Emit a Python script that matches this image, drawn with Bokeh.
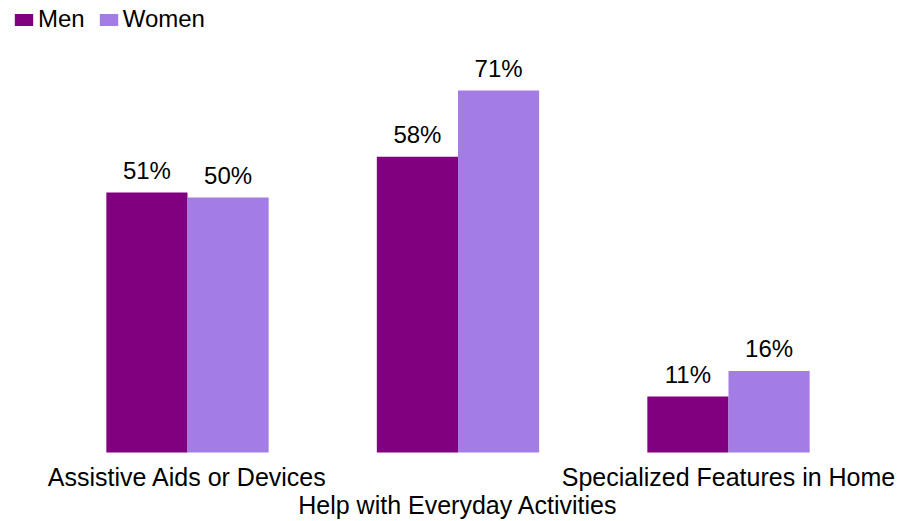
from bokeh.plotting import figure
from bokeh.models import ColumnDataSource, Range1d, Legend, LegendItem
from bokeh.core.properties import value
from bokeh.embed import file_html
from bokeh.resources import INLINE

categories = ["Assistive Aids or Devices", "Help with Everyday Activities", "Specialized Features in Home"]
men = [51, 58, 11]
women = [50, 71, 16]
series_names = ["Men", "Women"]
colors = ["#800080", "#A37CE6"]

FONT = value("Liberation Sans")
bar_w = 0.3
idx = list(range(len(categories)))

p = figure(width=899, height=521, output_backend="svg", toolbar_location=None,
           x_range=Range1d(-0.6913, 2.6322), y_range=Range1d(-13.53, 88.63),
           x_axis_location=None, y_axis_location=None, min_border=0)
p.grid.visible = False
p.outline_line_color = None
p.background_fill_color = "white"
p.border_fill_color = "white"

renderers = []
for k, (vals, col) in enumerate(zip([men, women], colors)):
    off = (k - 0.5) * bar_w
    src = ColumnDataSource(dict(x=[i + off for i in idx], top=vals,
                                lab=[f"{v}%" for v in vals]))
    r = p.vbar(x="x", top="top", bottom=0, width=bar_w, source=src,
               fill_color=col, line_color=None)
    renderers.append(r)
    p.text(x="x", y="top", text="lab", source=src, text_font=FONT,
           text_font_size="24px", text_color="black", text_align="center",
           text_baseline="alphabetic", y_offset=-22)

row1 = ColumnDataSource(dict(x=[idx[0], idx[2]], y=[0, 0], t=[categories[0], categories[2]]))
row2 = ColumnDataSource(dict(x=[idx[1]], y=[0], t=[categories[1]]))
p.text(x="x", y="y", text="t", source=row1, text_font=FONT, text_font_size="25px",
       text_color="black", text_align="center", text_baseline="alphabetic", y_offset=25)
p.text(x="x", y="y", text="t", source=row2, text_font=FONT, text_font_size="25px",
       text_color="black", text_align="center", text_baseline="alphabetic", y_offset=53)

legend = Legend(items=[LegendItem(label=n, renderers=[r]) for n, r in zip(series_names, renderers)],
                orientation="horizontal", location=(12, 488), margin=0, padding=0,
                glyph_width=23, glyph_height=15, label_height=15, label_standoff=3,
                spacing=12, label_text_font="Liberation Sans", label_text_font_size="24px",
                label_text_color="black", border_line_color=None,
                background_fill_alpha=0)
p.add_layout(legend)

open("out.html", "w").write(file_html(p, INLINE))
